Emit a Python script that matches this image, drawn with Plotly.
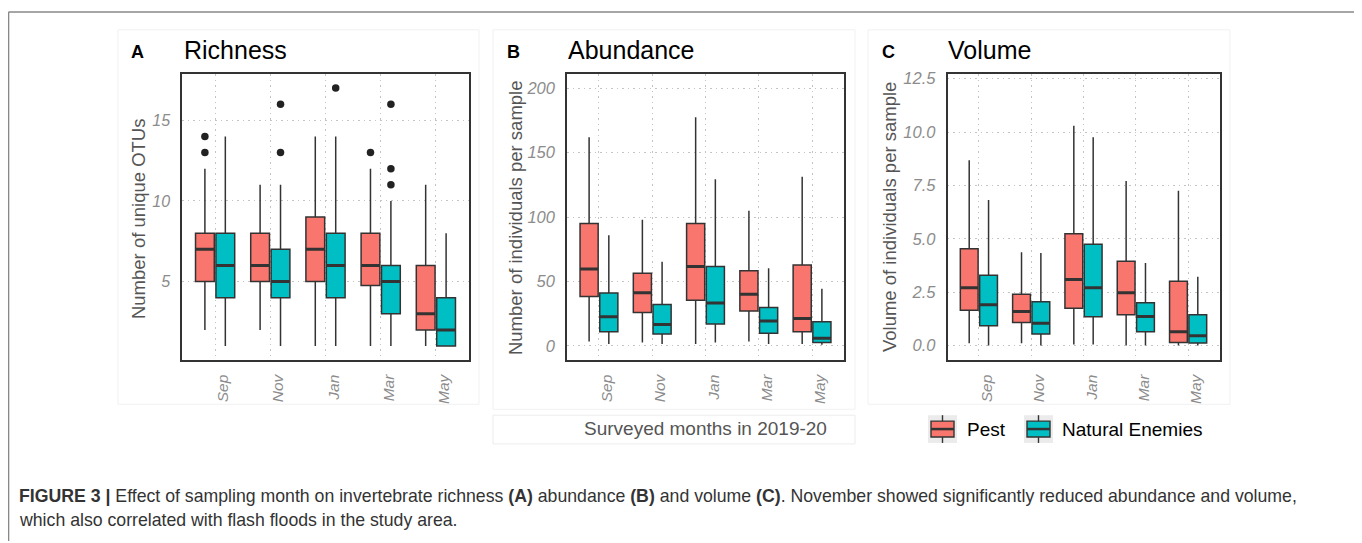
import plotly.graph_objects as go

# The page body adds an offset before the figure, so the figure is drawn
# smaller and reference pixel positions are mapped with that offset.
OFF_X, OFF_Y = 8, 10
W, H = 1362 - OFF_X, 543 - OFF_Y

months = ["Sep", "Nov", "Jan", "Mar", "May"]

# Panel A - Richness (number of unique OTUs)
rich_pest_low = [2, 2, 1, 1, 1]
rich_pest_q1 = [5, 5, 5, 4.75, 2]
rich_pest_med = [7, 6, 7, 6, 3]
rich_pest_q3 = [8, 8, 9, 8, 6]
rich_pest_high = [12, 11, 14, 12, 11]
rich_pest_out_month = ["Sep", "Sep", "Mar"]
rich_pest_out_val = [13, 14, 13]

rich_ne_low = [1, 1, 1, 1, 1]
rich_ne_q1 = [4, 4, 4, 3, 1]
rich_ne_med = [6, 5, 6, 5, 2]
rich_ne_q3 = [8, 7, 8, 6, 4]
rich_ne_high = [14, 11, 14, 10, 8]
rich_ne_out_month = ["Nov", "Nov", "Jan", "Mar", "Mar", "Mar"]
rich_ne_out_val = [13, 16, 17, 11, 12, 16]

# Panel B - Abundance (individuals per sample)
abun_pest_low = [3.3, 2.5, 1.5, 3.3, 1.5]
abun_pest_q1 = [38.4, 25.9, 35.3, 27.1, 11]
abun_pest_med = [59.7, 41.2, 61.7, 40, 21.3]
abun_pest_q3 = [95, 56.3, 95, 58.4, 62.8]
abun_pest_high = [162, 98, 177.5, 105, 131.4]

abun_ne_low = [1.5, 1.5, 2.5, 1.5, 0.8]
abun_ne_q1 = [11, 9.2, 16.9, 9.7, 2.5]
abun_ne_med = [22.5, 16.6, 33.3, 19.2, 5.9]
abun_ne_q3 = [41, 32, 61.7, 29.7, 18.7]
abun_ne_high = [85.8, 65.3, 129.3, 60.2, 44.3]

# Panel C - Volume (per sample)
vol_pest_low = [0.11, 0.11, 0.05, 0, 0]
vol_pest_q1 = [1.66, 1.08, 1.75, 1.44, 0.15]
vol_pest_med = [2.71, 1.60, 3.10, 2.48, 0.65]
vol_pest_q3 = [4.54, 2.40, 5.24, 3.95, 3.02]
vol_pest_high = [8.68, 4.37, 10.3, 7.71, 7.25]

vol_ne_low = [0, 0, 0.05, 0, 0]
vol_ne_q1 = [0.93, 0.54, 1.35, 0.65, 0.12]
vol_ne_med = [1.91, 1.05, 2.71, 1.36, 0.46]
vol_ne_q3 = [3.30, 2.06, 4.75, 2.01, 1.44]
vol_ne_high = [6.82, 4.34, 9.76, 3.87, 3.22]

series_names = ["Pest", "Natural Enemies"]
series_colors = ["#F8766D", "#00BFC4"]

OFFSET = 0.185
BOXW = 0.34
DARK = "#333333"


def px(x):
    return (x - OFF_X) / W


def py(y):
    return 1 - (y - OFF_Y) / H


fig = go.Figure()

panels = [
    dict(ax="", pest=(rich_pest_low, rich_pest_q1, rich_pest_med, rich_pest_q3, rich_pest_high),
         ne=(rich_ne_low, rich_ne_q1, rich_ne_med, rich_ne_q3, rich_ne_high),
         pest_out=(rich_pest_out_month, rich_pest_out_val), ne_out=(rich_ne_out_month, rich_ne_out_val)),
    dict(ax="2", pest=(abun_pest_low, abun_pest_q1, abun_pest_med, abun_pest_q3, abun_pest_high),
         ne=(abun_ne_low, abun_ne_q1, abun_ne_med, abun_ne_q3, abun_ne_high), pest_out=None, ne_out=None),
    dict(ax="3", pest=(vol_pest_low, vol_pest_q1, vol_pest_med, vol_pest_q3, vol_pest_high),
         ne=(vol_ne_low, vol_ne_q1, vol_ne_med, vol_ne_q3, vol_ne_high), pest_out=None, ne_out=None),
]

idx = {m: i + 1 for i, m in enumerate(months)}

for p in panels:
    xa, ya = "x" + p["ax"], "y" + p["ax"]
    for k, (key, outkey) in enumerate([("pest", "pest_out"), ("ne", "ne_out")]):
        low, q1, med, q3, high = p[key]
        off = -OFFSET if k == 0 else OFFSET
        xs = [i + 1 + off for i in range(len(months))]
        fig.add_trace(go.Box(
            x=xs, q1=q1, median=med, q3=q3, lowerfence=low, upperfence=high,
            width=BOXW, fillcolor=series_colors[k], whiskerwidth=0,
            line=dict(color=DARK, width=1.5), boxpoints=False,
            name=series_names[k], showlegend=False, hoverinfo="skip",
            xaxis=xa, yaxis=ya))
        # thick median bars
        mx, my = [], []
        for x, m in zip(xs, med):
            mx += [x - BOXW / 2, x + BOXW / 2, None]
            my += [m, m, None]
        fig.add_trace(go.Scatter(x=mx, y=my, mode="lines",
                                 line=dict(color=DARK, width=3),
                                 showlegend=False, hoverinfo="skip",
                                 xaxis=xa, yaxis=ya))
        if p[outkey]:
            om, ov = p[outkey]
            fig.add_trace(go.Scatter(
                x=[idx[m] + off for m in om], y=ov, mode="markers",
                marker=dict(color="#222222", size=7.5),
                showlegend=False, hoverinfo="skip", xaxis=xa, yaxis=ya))

TOP, BOT = 72, 360
domains_x = [(182, 469), (567, 844), (947.5, 1219.5)]
yranges = [[0.15, 17.85], [-10.8, 210.8], [-0.66, 12.7]]
yticks = [[5, 10, 15], [0, 50, 100, 150, 200], [0, 2.5, 5, 7.5, 10, 12.5]]
yticktext = [["5", "10", "15"], ["0", "50", "100", "150", "200"],
             ["0.0", "2.5", "5.0", "7.5", "10.0", "12.5"]]
ytickfont = [16, 16.5, 16.5]
GRID_DASH = "1.5px,4px"
GRID_COLOR = "#c4c4c4"

layout = dict(
    width=W, height=H, margin=dict(l=0, r=0, t=0, b=0),
    paper_bgcolor="white", plot_bgcolor="white", showlegend=False,
    font=dict(family="Liberation Sans, Arial, sans-serif"),
)

for i, (ax, (x0, x1)) in enumerate(zip(["", "2", "3"], domains_x)):
    layout["xaxis" + ax] = dict(
        domain=[px(x0), px(x1)], anchor="y" + ax, range=[0.4, 5.6],
        tickvals=[1, 2, 3, 4, 5], ticktext=months, tickangle=-90,
        tickfont=dict(size=15.5, color="#8c8c8c", style="italic"),
        ticks="outside", ticklen=7, tickcolor="rgba(0,0,0,0)",
        ticklabelshift=8,
        showgrid=True, griddash=GRID_DASH, gridcolor=GRID_COLOR, gridwidth=1,
        zeroline=False, showline=True, mirror=True, linecolor=DARK, linewidth=1.5,
    )
    layout["yaxis" + ax] = dict(
        domain=[py(BOT), py(TOP)], anchor="x" + ax, range=yranges[i],
        tickvals=yticks[i], ticktext=yticktext[i],
        tickfont=dict(size=ytickfont[i], color="#8c8c8c", style="italic"),
        ticks="outside", ticklen=7, tickcolor="rgba(0,0,0,0)",
        showgrid=True, griddash=GRID_DASH, gridcolor=GRID_COLOR, gridwidth=1,
        zeroline=False, showline=True, mirror=True, linecolor=DARK, linewidth=1.5,
    )

annotations = []
shapes = []

# panel letters & titles
for letter, title, lx, tx in [("A", "Richness", 137, 182), ("B", "Abundance", 513, 566), ("C", "Volume", 888, 946)]:
    annotations.append(dict(x=px(lx), y=py(49), xref="paper", yref="paper", text="<b>%s</b>" % letter,
                            showarrow=False, xanchor="center", yanchor="middle",
                            font=dict(size=18, color="black")))
    annotations.append(dict(x=px(tx), y=py(47.5), xref="paper", yref="paper", text=title,
                            showarrow=False, xanchor="left", yanchor="middle",
                            font=dict(size=25, color="black")))

# y-axis titles
for text, x, yc in [("Number of unique OTUs", 138, 218), ("Number of individuals per sample", 515, 217),
                    ("Volume of individuals per sample", 889, 216)]:
    annotations.append(dict(x=px(x), y=py(yc), xref="paper", yref="paper", text=text, textangle=-90,
                            showarrow=False, xanchor="center", yanchor="middle",
                            font=dict(size=18.5, color="#555555")))

# x-axis title
annotations.append(dict(x=px(705), y=py(429), xref="paper", yref="paper", text="Surveyed months in 2019-20",
                        showarrow=False, xanchor="center", yanchor="middle",
                        font=dict(size=19, color="#555555")))
shapes.append(dict(type="rect", xref="paper", yref="paper", x0=px(493), x1=px(855), y0=py(445), y1=py(416),
                   line=dict(color="#ececec", width=1)))

# faint panel frames
for (x0, x1, y1) in [(118, 479, 405), (493, 855, 410), (868, 1230, 405)]:
    shapes.append(dict(type="rect", xref="paper", yref="paper", x0=px(x0), x1=px(x1), y0=py(y1), y1=py(27),
                       line=dict(color="#f1f1f1", width=1)))

# legend keys
for k, (kx0, tx) in enumerate([(928, 965), (1024, 1060)]):
    kx1 = kx0 + 29
    ky0, ky1 = 416, 444
    cx = (kx0 + kx1) / 2
    shapes.append(dict(type="rect", xref="paper", yref="paper", x0=px(kx0), x1=px(kx1), y0=py(ky1), y1=py(ky0),
                       fillcolor="#ebebeb", line=dict(width=0)))
    shapes.append(dict(type="line", xref="paper", yref="paper", x0=px(cx), x1=px(cx), y0=py(ky1), y1=py(ky0),
                       line=dict(color=DARK, width=1.4)))
    shapes.append(dict(type="rect", xref="paper", yref="paper", x0=px(kx0 + 3), x1=px(kx1 - 3), y0=py(438),
                       y1=py(422), fillcolor=series_colors[k], line=dict(color=DARK, width=1.4)))
    shapes.append(dict(type="line", xref="paper", yref="paper", x0=px(kx0 + 3), x1=px(kx1 - 3), y0=py(430),
                       y1=py(430), line=dict(color=DARK, width=2.5)))
    annotations.append(dict(x=px(tx), y=py(430), xref="paper", yref="paper", text=series_names[k],
                            showarrow=False, xanchor="left", yanchor="middle",
                            font=dict(size=19, color="black")))

# caption
annotations.append(dict(
    x=px(17), y=py(498), xref="paper", yref="paper", xanchor="left", yanchor="middle", showarrow=False,
    text="<b>FIGURE 3 |</b> Effect of sampling month on invertebrate richness <b>(A)</b> abundance <b>(B)</b> "
         "and volume <b>(C)</b>. November showed significantly reduced abundance and volume,",
    font=dict(size=17.7, color="#333333")))
annotations.append(dict(
    x=px(17), y=py(521.5), xref="paper", yref="paper", xanchor="left", yanchor="middle", showarrow=False,
    text="which also correlated with flash floods in the study area.",
    font=dict(size=17.7, color="#333333")))

# outer frame (open at the bottom edge of the picture)
FRAME = dict(color="#888888", width=1.6)
for (x0, y0, x1, y1) in [(8.5, 9, 1355, 9), (8.5, 9, 8.5, 560), (1355, 9, 1355, 560)]:
    shapes.append(dict(type="line", xref="paper", yref="paper", x0=px(x0), x1=px(x1), y0=py(y0), y1=py(y1),
                       line=FRAME))

layout["annotations"] = annotations
layout["shapes"] = shapes
fig.update_layout(**layout)

fig.write_html("out.html")
